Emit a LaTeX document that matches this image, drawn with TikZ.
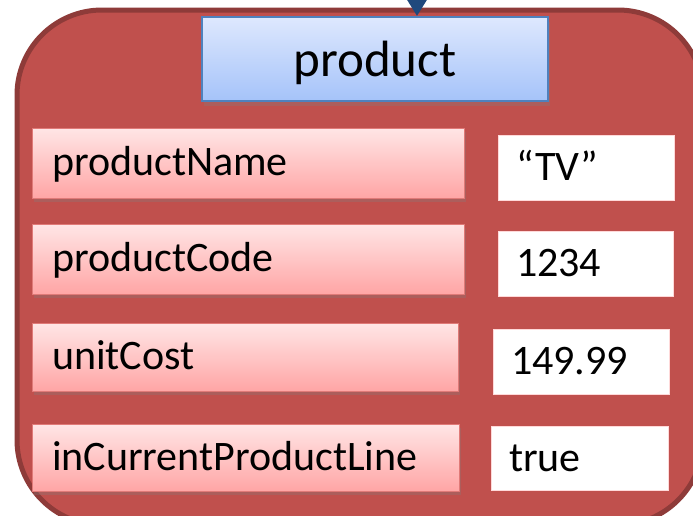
\documentclass[tikz,border=0pt]{standalone}
\usepackage{fontspec}
\setmainfont{Carlito}
\usetikzlibrary{shadows,arrows.meta}
\definecolor{outerfill}{HTML}{C0504D}
\definecolor{outerdraw}{HTML}{8E3B39}
\definecolor{namtop}{HTML}{FFE6E6}
\definecolor{nambot}{HTML}{FFA5A5}
\definecolor{namdraw}{HTML}{E07A78}
\definecolor{prodtop}{HTML}{DEE8FE}
\definecolor{prodbot}{HTML}{A5C3F9}
\definecolor{proddraw}{HTML}{4F81BD}
\definecolor{arrowblue}{HTML}{1F497D}
\tikzset{
  namebox/.style={draw=namdraw, line width=1pt, top color=namtop, bottom color=nambot,
    inner xsep=20pt, inner ysep=0pt, align=left, text height=34pt, text depth=9pt,
    font=\fontsize{42}{50}\selectfont,
    drop shadow={shadow xshift=2pt, shadow yshift=-4pt, opacity=0.3}},
  valbox/.style={fill=white, draw=white!85!red, line width=0.6pt,
    inner xsep=18pt, inner ysep=0pt, align=left, text height=34pt, text depth=8pt,
    font=\fontsize{42}{50}\selectfont},
  prodbox/.style={draw=proddraw, line width=2pt, top color=prodtop, bottom color=prodbot,
    inner sep=0pt, text height=44pt, text depth=10pt, font=\fontsize{51}{60}\selectfont,
    drop shadow={shadow xshift=2pt, shadow yshift=-5pt, opacity=0.3}},
}
\begin{document}
\begin{tikzpicture}[x=1pt,y=-1pt]
\useasboundingbox (0,0) rectangle (693,515);
\clip (0,0) rectangle (693,515);
\fill[white] (0,0) rectangle (693,515);
\draw[fill=outerfill, draw=outerdraw, line width=5pt, rounded corners=85pt]
  (17,10) rectangle (703,525);
% product header
\node[prodbox, minimum width=346pt, minimum height=84pt] (prod) at (375,59) {product};
% name boxes
\node[namebox, minimum width=432pt, minimum height=70pt, text width=392pt] (nA) at (248,163) {productName};
\node[namebox, minimum width=432pt, minimum height=70pt, text width=392pt] (nB) at (248,259) {productCode};
\node[namebox, minimum width=426pt, minimum height=68pt, text width=386pt] (nC) at (245,357) {unitCost};
\node[namebox, minimum width=427pt, minimum height=67pt, text width=387pt] (nD) at (245.5,457.5) {inCurrentProductLine};
% value boxes
\node[valbox, minimum width=176pt, minimum height=65pt, text width=140pt] (vA) at (586,167.5) {“TV”};
\node[valbox, minimum width=175pt, minimum height=65pt, text width=139pt] (vB) at (585.5,263.5) {1234};
\node[valbox, minimum width=176pt, minimum height=65pt, text width=140pt] (vC) at (581,361.5) {149.99};
\node[valbox, minimum width=177pt, minimum height=64pt, text width=141pt] (vD) at (579.5,458) {true};
% incoming arrow
\coordinate (src) at (417,-60);
\draw[arrowblue, line width=4pt, -{Triangle[width=26pt,length=22pt]}] (src) -- (src |- prod.north);
\end{tikzpicture}
\end{document}
